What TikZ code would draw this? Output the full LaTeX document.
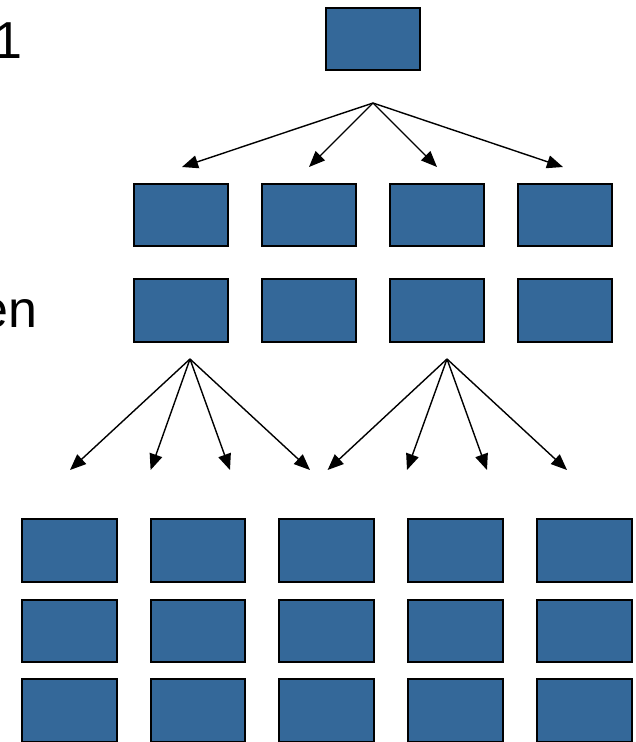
\documentclass[tikz,border=0pt]{standalone}
\usepackage{fontspec}
\setmainfont{Liberation Sans}
\usetikzlibrary{arrows.meta}
\definecolor{boxblue}{RGB}{52,104,153}
\tikzset{
  blk/.style={draw=black, line width=2pt, fill=boxblue, minimum width=94.6pt, minimum height=62.5pt, inner sep=0pt},
  arr/.style={line width=1.4pt, -{Triangle[length=16pt,width=13pt]}},
  lbl/.style={inner sep=0pt, font=\fontsize{52}{60}\selectfont}
}
\begin{document}
\begin{tikzpicture}[x=1pt,y=-1pt]
\useasboundingbox (0,0) rectangle (635,742);
% labels
\node[lbl, anchor=base west] (t1) at (-6.5,58) {1};
\node[lbl, anchor=base west] (t2) at (-20.5,327.5) {en};
% top
\node[blk] (top) at (373,39) {};
% row 2 and 3
\foreach \i/\x in {1/181,2/309,3/437,4/565}{
  \node[blk] (a\i) at (\x,215) {};
  \node[blk] (b\i) at (\x,310.7) {};
}
% bottom grid
\foreach \i/\x in {1/69.2,2/198,3/326.5,4/455.5,5/584.3}{
  \node[blk] (c\i) at (\x,550.5) {};
  \node[blk] (d\i) at (\x,630.8) {};
  \node[blk] (e\i) at (\x,710.5) {};
}
% top fan
\coordinate (f0) at (373,103);
\coordinate (g1) at (182,167);
\coordinate (g2) at (309,167);
\coordinate (g3) at (437,167);
\coordinate (g4) at (563,167);
\foreach \j in {1,2,3,4}{ \draw[arr] (f0) -- (g\j); }
% bottom fans
\coordinate (h0) at (190,359);
\coordinate (k0) at (447,359);
\coordinate (h1) at (70,470);
\coordinate (h2) at (150.6,470);
\coordinate (h3) at (230,470);
\coordinate (h4) at (310,470);
\coordinate (k1) at (327.6,470);
\coordinate (k2) at (407,470);
\coordinate (k3) at (487,470);
\coordinate (k4) at (567,470);
\foreach \j in {1,2,3,4}{ \draw[arr] (h0) -- (h\j); \draw[arr] (k0) -- (k\j); }
\end{tikzpicture}
\end{document}
